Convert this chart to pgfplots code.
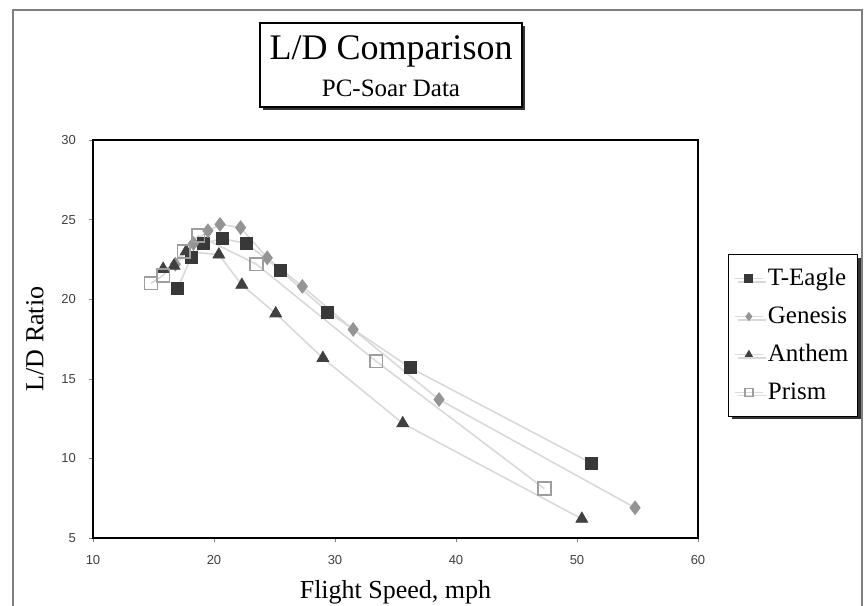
\documentclass[border=0pt]{standalone}
\usepackage{pgfplots}
\pgfplotsset{compat=1.18}
\usepackage{fontspec}
\setmainfont{Liberation Serif}
\newfontfamily\ticksans{Liberation Sans}
\usetikzlibrary{shadows}

\definecolor{lineg}{gray}{0.85}
\definecolor{teagle}{gray}{0.22}
\definecolor{genesis}{gray}{0.58}
\definecolor{anthem}{gray}{0.25}
\definecolor{prism}{gray}{0.62}

\begin{document}
\begin{tikzpicture}
\path[use as bounding box] (0,0) rectangle (432pt,303pt);
% outer frame
\draw[gray, line width=1.1pt] (6.3pt,-2pt) -- (6.3pt,298pt) -- (431pt,298pt) -- (431pt,-2pt);
% title box
\path[draw=black, fill=white, line width=0.6pt,
      drop shadow={shadow xshift=1.6pt, shadow yshift=-1.6pt, fill=black!80, opacity=1}]
  (130pt,249.5pt) rectangle (261pt,291.5pt);
\node[font=\fontsize{18}{20}\selectfont] at (195.5pt,277.5pt) {L/D Comparison};
\node[font=\fontsize{12.5}{14}\selectfont] at (195.5pt,259pt) {PC-Soar Data};

\begin{axis}[
    at={(46.5pt,34pt)}, anchor=south west,
    scale only axis,
    width=302.5pt, height=199pt,
    xmin=10, xmax=60, ymin=5, ymax=30,
    xtick={10,20,...,60},
    ytick={5,10,...,30},
    tick align=outside,
    major tick length=2pt,
    xtick pos=bottom, ytick pos=left,
    axis line style={line width=0.9pt},
    /pgf/number format/assume math mode=true,
    tick label style={font=\ticksans\fontsize{6.5}{7}\selectfont, text=black!75},
    xticklabel style={yshift=-3pt},
    yticklabel style={xshift=-3pt},
    xlabel={Flight Speed, mph},
    ylabel={L/D Ratio},
    label style={font=\fontsize{13}{15}\selectfont},
    xlabel style={yshift=-1pt},
    ylabel style={yshift=2pt},
    legend style={at={(1.05,0.714)}, anchor=north west,
        draw=black, line width=0.6pt, fill=white,
        font=\fontsize{12.5}{14}\selectfont,
        row sep=5pt, inner xsep=2.5pt, inner ysep=5pt,
        drop shadow={shadow xshift=1.6pt, shadow yshift=-1.6pt, fill=black!80, opacity=1}},
    legend cell align=left,
    legend image code/.code={
        \path (0cm,0cm) -- (0.5cm,0cm);
        \draw[#1, mark size=2pt] plot coordinates {(0.25cm,0cm)};},
]
\addplot[lineg, line width=0.8pt, mark=square*, mark size=3pt,
    mark options={draw=teagle, fill=teagle, line width=0.4pt}] coordinates {
    (17.0,20.7) (18.1,22.6) (19.1,23.5) (20.7,23.8) (22.7,23.5)
    (25.5,21.8) (29.4,19.2) (36.2,15.7) (51.2,9.7)
};
\addlegendentry{T-Eagle}
\addplot[lineg, line width=0.8pt, mark=diamond*, mark size=3.4pt,
    mark options={draw=genesis, fill=genesis, line width=0.4pt}] coordinates {
    (16.8,22.2) (18.3,23.5) (19.5,24.3) (20.5,24.7) (22.2,24.5)
    (24.4,22.6) (27.3,20.8) (31.5,18.1) (38.6,13.7) (54.8,6.9)
};
\addlegendentry{Genesis}
\addplot[lineg, line width=0.8pt, mark=triangle*, mark size=3.4pt,
    mark options={draw=anthem, fill=anthem, line width=0.4pt}] coordinates {
    (15.8,21.9) (16.7,22.1) (17.7,23.0) (20.4,22.8) (22.3,20.9)
    (25.1,19.1) (29.0,16.3) (35.6,12.2) (50.4,6.2)
};
\addlegendentry{Anthem}
\addplot[lineg, line width=0.8pt, mark=square, mark size=3.2pt,
    mark options={draw=prism, fill=white, line width=0.8pt}] coordinates {
    (14.8,21.0) (15.8,21.5) (17.5,23.0) (18.7,24.0)
    (23.5,22.2) (33.4,16.1) (47.3,8.1)
};
\addlegendentry{Prism}
\end{axis}
\end{tikzpicture}
\end{document}
